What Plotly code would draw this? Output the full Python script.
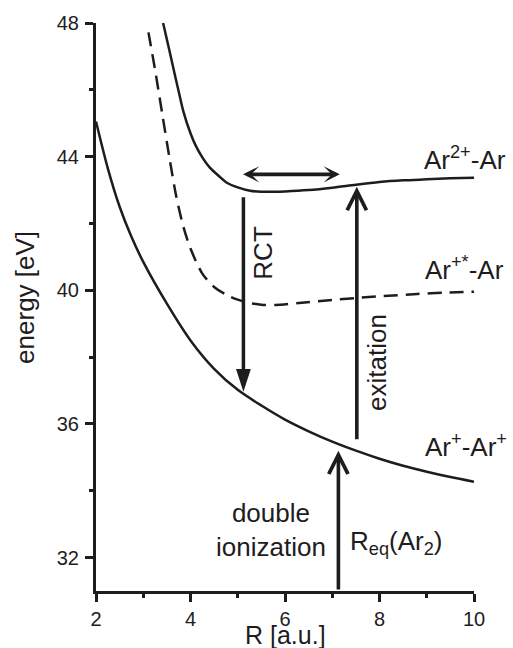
import plotly.graph_objects as go

# ---- data ----
r_ion = [2.0, 2.25, 2.5, 2.75, 3.0, 3.5, 4.0, 4.5, 5.0, 5.5, 6.0, 6.5, 7.0, 7.5, 8.0, 8.5, 9.0, 9.5, 10.0]
e_ion = [45.05, 43.65, 42.5, 41.6, 40.85, 39.6, 38.5, 37.65, 37.02, 36.55, 36.13, 35.78, 35.47, 35.2, 34.96, 34.75, 34.57, 34.41, 34.27]

r_dic = [3.42, 3.55, 3.64, 3.75, 3.85, 4.0, 4.1, 4.25, 4.41, 4.6, 4.77, 5.0, 5.26, 5.5, 5.75, 6.0, 6.5, 7.0, 7.5, 8.0, 8.5, 9.0, 9.5, 10.0]
e_dic = [48.0, 47.2, 46.63, 45.95, 45.35, 44.7, 44.36, 43.98, 43.67, 43.42, 43.22, 43.08, 42.98, 42.95, 42.95, 42.96, 43.0, 43.07, 43.16, 43.24, 43.29, 43.32, 43.35, 43.37]

r_exc = [3.11, 3.25, 3.4, 3.55, 3.7, 3.85, 4.0, 4.25, 4.5, 4.75, 5.0, 5.25, 5.5, 5.8, 6.3, 7.0, 7.5, 8.0, 8.8, 9.4, 10.0]
e_exc = [47.72, 46.6, 45.3, 44.0, 42.8, 41.9, 41.25, 40.5, 40.1, 39.87, 39.72, 39.62, 39.57, 39.56, 39.62, 39.71, 39.77, 39.82, 39.89, 39.93, 39.96]

curve_labels = ["Ar<sup>2+</sup>-Ar", "Ar<sup>+*</sup>-Ar", "Ar<sup>+</sup>-Ar<sup>+</sup>"]

# arrows: x position, tail energy, tip energy
rct_x, rct_from, rct_to = 5.12, 42.83, 36.96
exc_x, exc_from, exc_to = 7.52, 35.5, 43.1
ion_x, ion_from, ion_to = 7.13, 31.0, 35.2
vib_y, vib_x0, vib_x1 = 43.47, 5.08, 7.16

x_ticks = [2, 4, 6, 8, 10]
y_ticks = [32, 36, 40, 44, 48]

INK = "#1e1c1d"
FONT = "Liberation Sans, Arial, Helvetica, sans-serif"

fig = go.Figure()
fig.add_trace(go.Scatter(x=r_ion, y=e_ion, mode="lines", line=dict(color=INK, width=2.5, shape="spline", smoothing=0.8),
                         showlegend=False, hoverinfo="skip"))
fig.add_trace(go.Scatter(x=r_dic, y=e_dic, mode="lines", line=dict(color=INK, width=2.5, shape="spline", smoothing=0.8),
                         showlegend=False, hoverinfo="skip"))
fig.add_trace(go.Scatter(x=r_exc, y=e_exc, mode="lines",
                         line=dict(color=INK, width=2.5, shape="spline", smoothing=0.8, dash="14px,8px"),
                         showlegend=False, hoverinfo="skip"))
# RCT arrow head (narrow filled triangle)
fig.add_trace(go.Scatter(x=[rct_x], y=[rct_to], mode="markers",
                         marker=dict(symbol="arrow", angle=180, size=24, color=INK, line=dict(width=0)),
                         showlegend=False, hoverinfo="skip", cliponaxis=False))

ann = []
ann.append(dict(x=rct_x, y=rct_to, ax=rct_x, ay=rct_from, xref="x", yref="y", axref="x", ayref="y",
                text="", showarrow=True, arrowhead=0, arrowwidth=3.5, arrowcolor=INK, standoff=12))
ann.append(dict(x=exc_x, y=exc_to, ax=exc_x, ay=exc_from, xref="x", yref="y", axref="x", ayref="y",
                text="", showarrow=True, arrowhead=5, arrowsize=1.05, arrowwidth=3.6, arrowcolor=INK))
ann.append(dict(x=ion_x, y=ion_to, ax=ion_x, ay=ion_from, xref="x", yref="y", axref="x", ayref="y",
                text="", showarrow=True, arrowhead=5, arrowsize=1.05, arrowwidth=3.6, arrowcolor=INK))
ann.append(dict(x=vib_x1, y=vib_y, ax=vib_x0, ay=vib_y, xref="x", yref="y", axref="x", ayref="y",
                text="", showarrow=True, arrowhead=3, startarrowhead=3, arrowside="end+start",
                arrowsize=0.75, startarrowsize=0.75, arrowwidth=3.6, arrowcolor=INK))

tf = dict(family=FONT, size=26, color=INK)
label_pos = [(9.81, 43.94), (9.79, 40.64), (9.84, 35.34)]
for txt, (lx, ly) in zip(curve_labels, label_pos):
    ann.append(dict(x=lx, y=ly, xref="x", yref="y", text=txt, showarrow=False, font=tf,
                    xanchor="center", yanchor="middle"))
ann.append(dict(x=5.53, y=41.12, xref="x", yref="y", text="RCT", textangle=-90, showarrow=False, font=tf))
ann.append(dict(x=7.95, y=37.83, xref="x", yref="y", text="exitation", textangle=-90, showarrow=False, font=tf))
ann.append(dict(x=5.71, y=32.84, xref="x", yref="y", text="double<br>ionization", align="center",
                showarrow=False, font=tf))
ann.append(dict(x=8.35, y=32.45, xref="x", yref="y", text="R<sub>eq</sub>(Ar<sub>2</sub>)",
                showarrow=False, font=tf))
ann.append(dict(x=0.5, y=0, xref="paper", yref="paper", yshift=-44, text="R [a.u.]", showarrow=False,
                font=dict(family=FONT, size=25, color=INK), xanchor="center", yanchor="middle"))
ann.append(dict(x=0, y=0.516, xref="paper", yref="paper", xshift=-71, text="energy [eV]", textangle=-90,
                showarrow=False, font=tf, xanchor="center", yanchor="middle"))

fig.update_layout(
    width=513, height=648,
    margin=dict(l=96, r=39, t=21, b=57),
    paper_bgcolor="white", plot_bgcolor="white",
    font=dict(family=FONT, color=INK),
    annotations=ann,
    showlegend=False,
)
axis_common = dict(showgrid=False, zeroline=False, showline=True, linecolor=INK, linewidth=3,
                   ticks="outside", ticklen=8, tickwidth=3, tickcolor=INK,
                   tickfont=dict(family=FONT, size=20, color=INK),
                   minor=dict(ticks="outside", ticklen=4, tickwidth=3, tickcolor=INK, showgrid=False))
fig.update_xaxes(range=[2, 10], tickvals=x_ticks, minor_dtick=1, ticklabelstandoff=0, **axis_common)
fig.update_yaxes(range=[31, 48], tickvals=y_ticks, minor_dtick=2, ticklabelstandoff=2, **axis_common)

fig.write_html("out.html")
